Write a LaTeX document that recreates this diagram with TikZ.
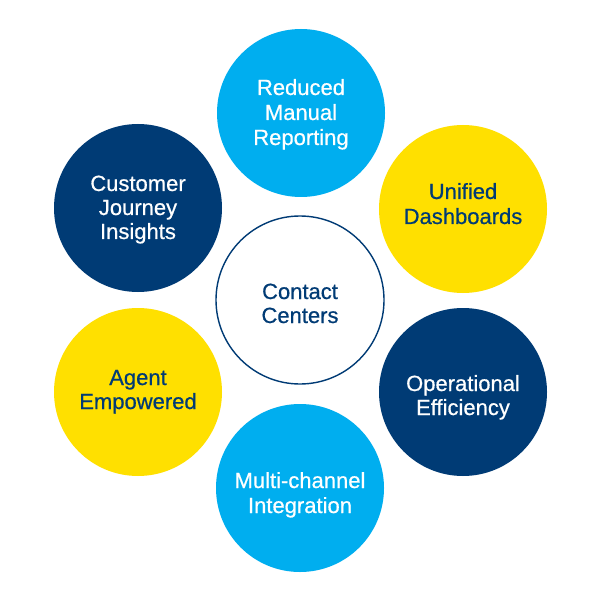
\documentclass[tikz,border=0pt]{standalone}
\usepackage{fontspec}
\setmainfont{Liberation Sans}
\newfontfamily\lblfont[FakeBold=0.6]{Liberation Sans}
\definecolor{cblue}{HTML}{00AEEF}
\definecolor{cnavy}{HTML}{003B75}
\definecolor{cyellow}{HTML}{FFE000}
\begin{document}
\begin{tikzpicture}[x=1pt,y=-1pt,
  bubble/.style={circle,minimum size=168pt,inner sep=0pt},
  bluebub/.style={bubble,fill=cblue},
  navybub/.style={bubble,fill=cnavy},
  yellowbub/.style={bubble,fill=cyellow},
  hub/.style={bubble,draw=cnavy,line width=1.4pt,fill=white},
  txt/.style={anchor=base,inner sep=0pt,font=\lblfont\fontsize{22}{25}\selectfont},
  wtxt/.style={txt,text=white},
  ntxt/.style={txt,text=cnavy}]
\useasboundingbox[fill=white] (0,0) rectangle (601,601);
\node[hub] (c) at (300,300) {};
\node[bluebub] (t) at (301,113) {};
\node[yellowbub] (ur) at (463,209) {};
\node[navybub] (lr) at (463,392) {};
\node[bluebub] (b) at (300,488) {};
\node[yellowbub] (ll) at (138,392) {};
\node[navybub] (ul) at (138,208) {};
% texts
\node[ntxt] (c1) at (300,299) {Contact};
\node[ntxt] (c2) at (300,323) {Centers};
\node[wtxt] (t1) at (301,95) {Reduced};
\node[wtxt] (t2) at (301,120) {Manual};
\node[wtxt] (t3) at (301,145) {Reporting};
\node[ntxt] (ur1) at (463,199) {Unified};
\node[ntxt] (ur2) at (463,224) {Dashboards};
\node[wtxt] (lr1) at (463,391) {Operational};
\node[wtxt] (lr2) at (463,415) {Efficiency};
\node[wtxt] (b1) at (300,488) {Multi-channel};
\node[wtxt] (b2) at (300,513) {Integration};
\node[ntxt] (ll1) at (138,385) {Agent};
\node[ntxt] (ll2) at (138,409) {Empowered};
\node[wtxt] (ul1) at (138,191) {Customer};
\node[wtxt] (ul2) at (138,215) {Journey};
\node[wtxt] (ul3) at (138,239) {Insights};
\end{tikzpicture}
\end{document}
